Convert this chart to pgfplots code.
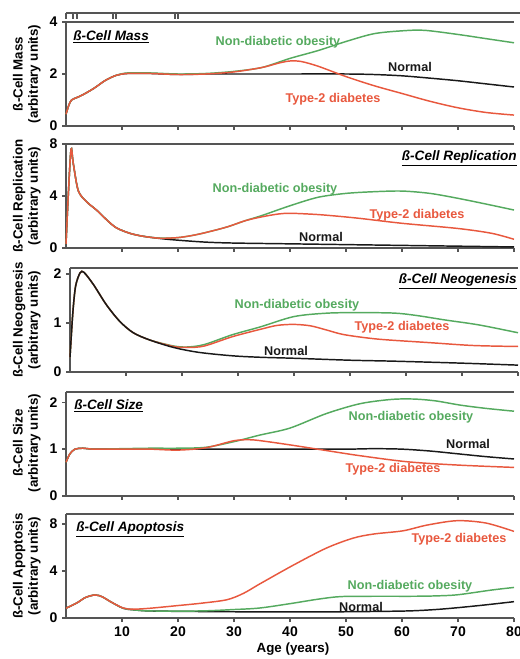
\documentclass[border=0pt]{standalone}
\usepackage{fontspec}
\setmainfont{Liberation Sans}
\usepackage{pgfplots}
\pgfplotsset{compat=1.18}
\definecolor{nc}{RGB}{25,25,25}
\definecolor{gc}{RGB}{85,170,95}
\definecolor{rc}{RGB}{232,88,62}
\definecolor{ax}{RGB}{85,85,85}
\pgfplotsset{
  panel/.style={scale only axis, width=336pt, height=78pt,
    xmin=0, xmax=80, ymin=0, anchor=north west,
    axis x line*=box, axis y line*=left,
    axis line style={ax, line width=1.3pt},
    xtick={10,20,...,80}, xtick pos=left, ytick pos=left,
    tick align=outside, major tick length=3pt,
    tick style={ax, line width=1pt},
    tick label style={font=\fontsize{10.5}{12}\selectfont\bfseries},
    /pgf/number format/assume math mode=true,
    every axis plot/.append style={line width=1.1pt, smooth, no markers},
    clip=false},
}
\begin{document}
\begin{tikzpicture}
\useasboundingbox (0,0) rectangle (390pt,494.25pt);

% Panel 1: Mass
\begin{axis}[panel, at={(49.5pt,477.75pt)}, ymax=4, ytick={0,2,4}, xticklabels={}]
\addplot[nc] coordinates {(0,0.45)(0.5,0.8)(1,1.0)(2,1.1)(3,1.2)(5,1.45)(7,1.75)(9,1.95)(11,2.02)(15,2.02)(20,1.98)(25,2.0)(30,2.0)(40,2.0)(50,2.0)(55,1.98)(60,1.93)(65,1.84)(70,1.74)(75,1.62)(80,1.5)};
\addplot[gc] coordinates {(0,0.45)(0.5,0.8)(1,1.0)(2,1.1)(3,1.2)(5,1.45)(7,1.75)(9,1.95)(11,2.04)(15,2.04)(20,2.0)(25,2.02)(30,2.1)(35,2.25)(40,2.6)(45,2.9)(50,3.25)(55,3.55)(60,3.66)(64,3.68)(70,3.52)(75,3.36)(80,3.2)};
\addplot[rc] coordinates {(0,0.45)(0.5,0.8)(1,1.0)(2,1.1)(3,1.2)(5,1.45)(7,1.75)(9,1.95)(11,2.02)(15,2.02)(20,1.98)(25,2.0)(30,2.08)(35,2.25)(38,2.42)(40,2.5)(42,2.48)(45,2.3)(50,1.9)(55,1.55)(60,1.25)(65,0.95)(70,0.7)(75,0.52)(80,0.42)};
\end{axis}

% Panel 2: Replication
\begin{axis}[panel, at={(49.5pt,386.25pt)}, ymax=8, ytick={0,4,8}, xticklabels={}]
\addplot[nc] coordinates {(0,0.3)(0.4,4)(0.9,7.6)(1.3,6.5)(2.2,4.4)(3.7,3.55)(5.5,2.9)(7.3,2.15)(9,1.55)(11.4,1.13)(13.8,0.9)(17,0.72)(20,0.6)(25,0.45)(30,0.38)(40,0.32)(50,0.26)(60,0.2)(70,0.14)(80,0.08)};
\addplot[gc] coordinates {(0,0.3)(0.4,4)(0.9,7.6)(1.3,6.5)(2.2,4.4)(3.7,3.55)(5.5,2.9)(7.3,2.15)(9,1.55)(11.4,1.13)(13.8,0.9)(16.8,0.76)(20,0.8)(23,1.0)(26,1.3)(29,1.65)(32,2.1)(35,2.5)(40,3.25)(45,3.9)(50,4.2)(55,4.33)(60,4.38)(65,4.2)(70,3.82)(75,3.38)(80,2.92)};
\addplot[rc] coordinates {(0,0.3)(0.4,4)(0.9,7.6)(1.3,6.5)(2.2,4.4)(3.7,3.55)(5.5,2.9)(7.3,2.15)(9,1.55)(11.4,1.13)(13.8,0.9)(16.8,0.75)(20,0.8)(23,1.0)(26,1.3)(29,1.65)(32,2.1)(35,2.4)(38,2.62)(40,2.67)(43,2.62)(46,2.54)(52,2.3)(60,1.9)(70,1.5)(76,1.13)(80,0.67)};
\end{axis}

% Panel 3: Neogenesis
\begin{axis}[panel, at={(52.5pt,293.25pt)}, ymax=2.12, ytick={0,1,2}, xticklabels={}]
\addplot[gc] coordinates {(0,0.3)(0.5,1.2)(1,1.75)(1.8,2.02)(2.5,2.03)(4.2,1.78)(6.5,1.37)(8.9,1.03)(11.3,0.8)(14.3,0.65)(18.5,0.53)(21,0.51)(24,0.56)(29,0.76)(34,0.92)(40,1.13)(46,1.2)(52,1.21)(58,1.2)(62,1.15)(67,1.06)(73,0.96)(80,0.8)};
\addplot[rc] coordinates {(0,0.3)(0.5,1.2)(1,1.75)(1.8,2.02)(2.5,2.03)(4.2,1.78)(6.5,1.37)(8.9,1.03)(11.3,0.8)(14.3,0.65)(18.5,0.52)(21,0.5)(24,0.53)(29,0.72)(34,0.87)(37,0.95)(40,0.97)(43,0.94)(46,0.85)(49,0.76)(55,0.67)(64,0.6)(72,0.54)(80,0.52)};
\addplot[nc] coordinates {(0,0.3)(0.5,1.2)(1,1.75)(1.8,2.02)(2.5,2.03)(4.2,1.78)(6.5,1.37)(8.9,1.03)(11.3,0.8)(14.3,0.65)(18.5,0.5)(23,0.4)(29,0.33)(34,0.3)(40,0.28)(50,0.24)(58,0.22)(70,0.18)(80,0.14)};
\end{axis}

% Panel 4: Size
\begin{axis}[panel, at={(49.5pt,200.25pt)}, ymax=2.22, ytick={0,1,2}, xticklabels={}]
\addplot[nc] coordinates {(0,0.72)(0.7,0.9)(1.6,1.0)(3,1.02)(5,1.0)(10,1.0)(15,1.0)(20,1.0)(30,1.0)(40,1.0)(50,1.0)(55,1.01)(60,1.0)(65,0.96)(70,0.9)(75,0.84)(80,0.79)};
\addplot[gc] coordinates {(0,0.72)(0.7,0.9)(1.6,1.0)(3,1.02)(5,1.0)(10,1.01)(15,1.02)(20,1.02)(25,1.04)(30,1.16)(34.6,1.3)(40,1.45)(46.5,1.76)(52.5,1.97)(58,2.06)(62,2.07)(66,2.03)(70.4,1.94)(75,1.87)(80,1.81)};
\addplot[rc] coordinates {(0,0.72)(0.7,0.9)(1.6,1.0)(3,1.02)(5,1.0)(10,1.0)(15,1.0)(20,0.98)(25,1.03)(30,1.18)(33,1.2)(36,1.16)(40.6,1.08)(46.5,0.97)(52.5,0.86)(61,0.73)(70,0.66)(80,0.61)};
\end{axis}

% Panel 5: Apoptosis
\begin{axis}[panel, at={(49.5pt,108.75pt)}, ymax=8.85, ytick={0,4,8}]
\addplot[nc] coordinates {(0,0.83)(2,1.3)(3.5,1.75)(5.2,1.96)(6.5,1.8)(7.9,1.4)(10.2,0.83)(12,0.7)(15,0.6)(24,0.55)(35,0.52)(45,0.52)(52,0.54)(61,0.6)(66,0.72)(70,0.88)(75,1.12)(80,1.39)};
\addplot[gc] coordinates {(0,0.83)(2,1.3)(3.5,1.75)(5.2,1.96)(6.5,1.8)(7.9,1.4)(10.2,0.83)(12,0.7)(15,0.6)(24,0.6)(30,0.72)(34.6,0.85)(40,1.22)(45,1.6)(49,1.82)(55,1.85)(62,1.85)(66,1.88)(70,1.98)(76,2.38)(80,2.6)};
\addplot[rc] coordinates {(0,0.83)(2,1.3)(3.5,1.75)(5.2,1.96)(6.5,1.8)(7.9,1.4)(10.2,0.85)(12,0.75)(15,0.83)(19.8,1.05)(24,1.25)(28.7,1.55)(31.7,2.1)(34.6,2.9)(40.6,4.5)(46.5,5.95)(51.3,6.8)(55,7.15)(60.2,7.42)(64.4,7.9)(69.8,8.28)(75,8.08)(80,7.37)};
\end{axis}

\begin{scope}[shift={(0,494.25pt)}, x=0.75pt, y=-0.75pt, font=\bfseries]
% top decoration (edge of the figure above)
\draw[ax, line width=1.2pt] (66,13) -- (522,13);
\foreach \xx in {66,73,77,113,116,175,178} \draw[ax, line width=0.9pt] (\xx,13) -- (\xx,19);
% y labels
\foreach \yy/\lab in {74/Mass, 196/Replication, 320/Neogenesis, 443/Size, 566/Apoptosis}
  \node[rotate=90, anchor=south, align=center, inner sep=0pt, font=\fontsize{10}{11.5}\selectfont\bfseries] at (41,\yy) {ß-Cell \lab\\(arbitrary units)};
% panel titles
\node[anchor=west, inner sep=0pt, font=\fontsize{10.2}{12}\selectfont\bfseries\itshape] at (73,37) {\underline{ß-Cell Mass}};
\node[anchor=east, inner sep=0pt, font=\fontsize{10.2}{12}\selectfont\bfseries\itshape] at (517,158) {\underline{ß-Cell Replication}};
\node[anchor=east, inner sep=0pt, font=\fontsize{10.2}{12}\selectfont\bfseries\itshape] at (517,281) {\underline{ß-Cell Neogenesis}};
\node[anchor=west, inner sep=0pt, font=\fontsize{10.2}{12}\selectfont\bfseries\itshape] at (74,406) {\underline{ß-Cell Size}};
\node[anchor=west, inner sep=0pt, font=\fontsize{10.2}{12}\selectfont\bfseries\itshape] at (76,529) {\underline{ß-Cell Apoptosis}};
% curve labels
\begin{scope}[every node/.style={inner sep=0pt, font=\fontsize{9.5}{11}\selectfont\bfseries}]
\node[gc] at (278,42) {Non-diabetic obesity};
\node[nc] at (410,67) {Normal};
\node[rc] at (333,99) {Type-2 diabetes};
\node[gc] at (275,189) {Non-diabetic obesity};
\node[nc] at (321,237) {Normal};
\node[rc] at (417,215) {Type-2 diabetes};
\node[gc] at (297,305) {Non-diabetic obesity};
\node[nc] at (286,351) {Normal};
\node[rc] at (402,327) {Type-2 diabetes};
\node[gc] at (411,417) {Non-diabetic obesity};
\node[nc] at (468,444) {Normal};
\node[rc] at (393,469) {Type-2 diabetes};
\node[rc] at (459,539) {Type-2 diabetes};
\node[gc] at (410,586) {Non-diabetic obesity};
\node[nc] at (361,607) {Normal};
\end{scope}
\node[font=\fontsize{10}{12}\selectfont\bfseries] at (293,649) {Age (years)};
\end{scope}
\end{tikzpicture}
\end{document}
